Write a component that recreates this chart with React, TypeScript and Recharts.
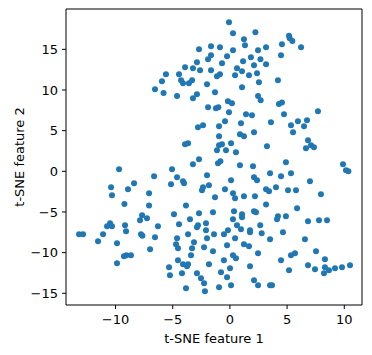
import React from 'react';
import { ScatterChart, Scatter, XAxis, YAxis, Label, ReferenceLine } from 'recharts';

const featureX: number[] = [
  -0.08, 2.23, 0.27, 1.23, 1.32, -2.7, -1.65, -0.87, 0.27, 2.46, -1.65, -1.91, -0.25, 1.84, 2.67, -2.88, -0.69, 1.15, -3.92, -3.23, 0.62, 2.11, -2.61, -1.65, 1.06, -5.59, -4.45, -1.13, -0.87, 0.45, 1.67, 2.37, -5.94, -4.27, -4.1, -3.58, -3.31, -2.0, 1.06, 2.54, -5.8, -4.62, -2.88, -1.3, -3.23, 2.46, -0.17, 0.18, 2.69,
  -6.55,
  5.17, 5.23, 5.46, 3.16, 4.55, 6.22, 4.47, 3.16, 4.2, 4.29, 4.55,
  -9.69, -6.63, -8.38, -10.39, -8.91, -10.31, -7.07, -9.22, -7.07,
  -1.91, -1.22, -1.01, -0.08, 1.41, 1.93, -0.43, 0.97, -2.79, -2.35, -0.95, 2.11, 0.88, 1.23, -0.95, -3.92, -3.66, -0.95, -0.69, 0.1, -1.13, -0.34, 0.53, -2.7, -3.23, -1.04, -0.83, 0.88, 2.02, -5.06, -2.0, -4.62, -4.1, -4.01, 2.11, 2.37, -5.15, 0.1, -1.83, -2.35, -2.44, -0.43, 0.27, 0.45, 1.23, 2.19, -1.3, -3.84,
  7.7, 4.73, 3.59, 5.95, 6.74, 5.34, 6.48, 5.52, 6.83, 7.09, 7.35, 6.65, 3.24, 4.9, 9.89, 10.15, 10.36, 3.51, 4.47, 5.34, 7.0, 3.16, 3.42, 4.03, 5.08, 5.78, 7.96, 3.16,
  -7.68, -7.86, -7.25, -10.48, -10.74, -10.31, -9.17, -9.08, -6.29, -13.19, -12.84, -11.09, -7.77, -7.65, -6.55, -11.53, -9.87, -6.98, -9.26, -9.05, -8.65, -9.87,
  -4.89, -2.7, -1.48, 0.36, 2.11, 2.28, 1.06, 1.06, -3.49, 0.27, -4.45, -2.09, -2.79, -2.88, 0.62, 2.65, -2.09, -0.17, 0.97, 1.76, 1.76, -3.66, -1.39, -0.52, 2.78, -4.62, -2.0, 0.45, -3.14, -4.71, -4.54, -3.31, -2.26, -0.25, 1.23, 1.67, -1.48, -3.4, 0.27, 0.53, 2.46, -4.54, -0.52, -4.1, -3.75, -3.66, -1.83, 1.76, -5.32, 0.01, -4.19, -2.88, -0.78, -5.24, -2.53, -0.25, 2.11, -2.26, 2.46, 0.1, -3.84, -0.95, -2.18,
  5.87, 4.2, 4.12, 4.9, 6.83, 7.79, 8.49, 4.64, 3.51, 6.56, 7.53, 5.34, 5.69, 4.47, 8.31, 6.83, 7.44, 8.31, 8.66, 8.23, 9.19, 9.8, 10.5, 5.17, 3.51, 3.68,
];

const featureY: number[] = [
  18.32, 17.09, 16.97, 16.23, 15.49, 15.0, 15.37, 15.25, 14.88, 14.88, 14.26, 13.77, 14.14, 14.02, 13.77, 13.4, 13.28, 13.53, 12.79, 12.66, 12.66, 13.03, 12.42, 12.42, 12.3, 11.93, 11.93, 11.68, 11.93, 11.8, 11.8, 12.05, 11.07, 11.19, 10.82, 10.82, 11.19, 10.7, 10.33, 10.94, 9.63, 9.26, 9.47, 9.71, 8.98, 9.26, 8.61, 8.36, 8.73,
  10.08,
  16.67, 16.35, 16.02, 15.25, 15.62, 15.25, 14.26, 13.16, 11.19, 8.28, 8.46,
  0.25, -0.61, -1.48, -1.97, -2.21, -2.95, -2.71, -4.02, -4.21,
  7.87, 7.75, 7.87, 7.25, 7.01, 6.89, 6.15, 5.9, 5.41, 5.66, 5.53, 4.8, 4.55, 4.3, 4.3, 3.32, 3.44, 3.2, 3.32, 3.44, 2.58, 2.58, 2.34, 1.48, 0.86, 0.98, 1.23, 0.74, 0.61, 0.25, -0.49, -0.74, -1.23, -1.48, -0.74, -1.11, -1.6, -1.11, -1.72, -1.97, -2.34, -2.21, -2.71, -3.32, -3.07, -3.07, -3.2, -4.21,
  7.38, 7.01, 6.03, 6.15, 6.27, 5.66, 5.53, 4.8, 3.81, 3.2, 2.95, 2.83, 3.07, 1.11, 0.86, 0.12, 0.0, -0.25, -0.61, -0.25, -1.23, -2.21, -2.46, -1.97, -2.34, -2.34, -2.83, -4.08,
  -5.41, -6.02, -5.78, -6.39, -6.76, -6.76, -6.64, -7.38, -6.76, -7.75, -7.75, -7.75, -7.75, -7.92, -8.12, -8.61, -8.85, -9.59, -10.45, -10.33, -10.33, -11.31,
  -5.29, -5.16, -5.04, -4.92, -4.92, -5.04, -5.29, -5.66, -5.9, -5.9, -6.52, -6.39, -6.64, -6.89, -6.64, -6.64, -7.25, -7.25, -7.13, -7.25, -7.5, -7.75, -7.75, -7.75, -7.62, -8.24, -8.24, -8.24, -8.73, -8.98, -9.47, -9.47, -9.35, -9.1, -8.98, -9.22, -9.84, -10.33, -10.33, -10.7, -10.08, -10.94, -10.94, -11.44, -11.68, -11.44, -11.44, -11.68, -11.8, -11.93, -12.54, -12.54, -12.42, -12.79, -13.16, -13.03, -13.4, -13.77, -14.02, -14.02, -14.39, -14.26, -14.76,
  -4.55, -5.53, -5.9, -5.53, -6.15, -6.02, -6.02, -7.5, -8.36, -8.36, -9.84, -10.33, -10.08, -10.94, -10.82, -11.56, -12.05, -11.8, -12.17, -12.54, -11.93, -11.8, -11.56, -12.17, -14.02, -14.02,
];

const xTicks = [-10, -5, 0, 5, 10];
const yTicks = [-15, -10, -5, 0, 5, 10, 15];
const xDomain: [number, number] = [-14.33, 11.55];
const yDomain: [number, number] = [-16.44, 19.96];

const data = featureX.map((x, i) => ({ x, y: featureY[i] }));

const fmt = (v: number) => (v < 0 ? `\u2212${Math.abs(v)}` : `${v}`);

const Dot = (props: any) => (
  <circle cx={props.cx} cy={props.cy} r={3} fill="#1f77b4" />
);

const tickStyle = { fill: '#000', fontSize: 13 };

export default function App() {
  return (
    <div
      style={{
        position: 'absolute',
        left: 0,
        top: 0,
        width: 372,
        height: 355,
        background: '#fff',
        fontFamily: 'DejaVu Sans',
      }}
    >
      <ScatterChart width={372} height={355} margin={{ top: 9, right: 10, bottom: 0, left: 0 }}>
        <XAxis
          type="number"
          dataKey="x"
          domain={xDomain}
          allowDataOverflow
          ticks={xTicks}
          tickFormatter={fmt}
          height={50}
          tick={tickStyle}
          tickSize={4}
          tickMargin={6}
          axisLine={{ stroke: '#000' }}
          tickLine={{ stroke: '#000' }}
        >
          <Label value="t-SNE feature 1" position="insideBottom" offset={12} fill="#000" fontSize={13} />
        </XAxis>
        <YAxis
          type="number"
          dataKey="y"
          domain={yDomain}
          allowDataOverflow
          ticks={yTicks}
          tickFormatter={fmt}
          width={66}
          tick={tickStyle}
          tickSize={4}
          tickMargin={4}
          axisLine={{ stroke: '#000' }}
          tickLine={{ stroke: '#000' }}
        >
          <Label
            value="t-SNE feature 2"
            angle={-90}
            position="insideLeft"
            offset={19}
            fill="#000"
            fontSize={13}
            style={{ textAnchor: 'middle' }}
          />
        </YAxis>
        <ReferenceLine y={yDomain[1]} stroke="#000" ifOverflow="extendDomain" />
        <ReferenceLine x={xDomain[1]} stroke="#000" ifOverflow="extendDomain" />
        <Scatter data={data} shape={Dot} isAnimationActive={false} />
      </ScatterChart>
    </div>
  );
}
